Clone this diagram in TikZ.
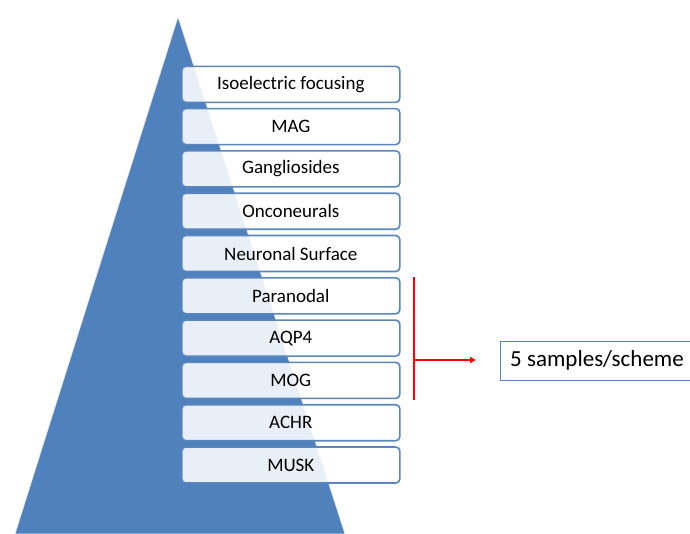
\documentclass[tikz,border=0pt]{standalone}
\usepackage{fontspec}
\setmainfont{Carlito}
\usetikzlibrary{arrows.meta}
\definecolor{pyr}{HTML}{4F81BD}
\definecolor{bord}{HTML}{5A86C0}
\tikzset{
  layer/.style={draw=bord, line width=1.6pt, rounded corners=4pt, fill=white, fill opacity=0.88, text opacity=1,
    minimum width=218pt, minimum height=36pt, inner sep=0pt, font=\fontsize{19}{22}\selectfont, anchor=north west},
  outbox/.style={draw=bord, line width=0.8pt, fill=white, minimum height=39pt, minimum width=200pt, anchor=north west,
    inner sep=0pt},
  bracket/.style={draw=red, line width=1.6pt}
}
\begin{document}
\begin{tikzpicture}[x=1pt,y=-1pt]
\useasboundingbox (0,0) rectangle (690,533);
\clip (0,0) rectangle (690,533);
\fill[pyr, draw=white!85!gray, line width=0.6pt] (178,17) -- (345,534) -- (15,534) -- cycle;
\foreach \t [count=\i from 0] in {Isoelectric focusing, MAG, Gangliosides, Onconeurals, Neuronal Surface, Paranodal, AQP4, MOG, ACHR, MUSK}{
  \node[layer] (b\i) at (181,{65.5+42.3*\i}) {\t};
}
\node[outbox] (s) at (500,340.5) {};
\node[anchor=west, inner sep=0pt, font=\fontsize{23}{26}\selectfont] (st) at (510,360) {5 samples/scheme};
\coordinate (top) at (414,277);
\coordinate (bot) at (414,400);
\coordinate (mid) at (414,360);
\coordinate (tip) at (476,360);
\draw[bracket] (top) -- (bot);
\draw[bracket, -{Triangle[length=6pt,width=6pt]}] (mid) -- (tip);
\end{tikzpicture}
\end{document}
